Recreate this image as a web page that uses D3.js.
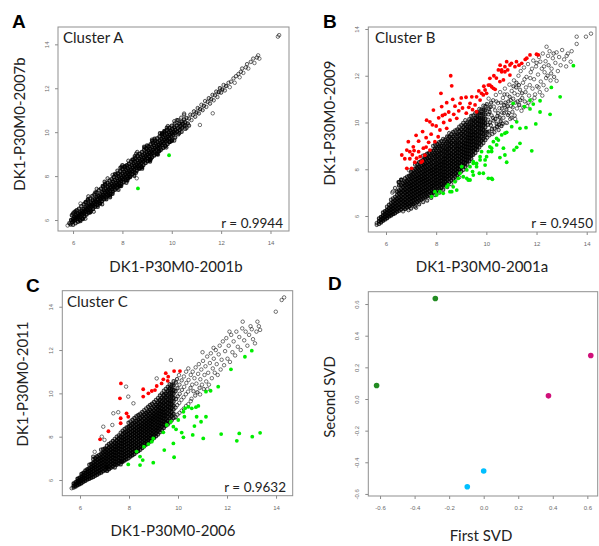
<!DOCTYPE html>
<html><head><meta charset="utf-8">
<script src="https://cdn.jsdelivr.net/npm/d3@7"></script>
<style>body{margin:0;background:#fff}svg{display:block}</style>
</head><body>
<svg id="chart" width="599" height="546"></svg>
<script>
// ---------------- DATA ----------------
const exprTicks = [6, 8, 10, 12, 14];
const svdTicks = [-0.6, -0.4, -0.2, 0, 0.2, 0.4, 0.6];

// Cluster A : DK1-P30M0-2001b (x) vs DK1-P30M0-2007b (y)
const clusterA_black = [
[5.78,5.75],[5.85,5.85],[5.9,5.8],[5.92,6.0],[5.97,5.9],[6.0,6.05],[6.02,5.95],[6.05,6.15],[6.08,6.0],[6.1,6.1],[6.13,6.22],[6.15,6.05],[6.18,6.15],[6.2,6.3],[6.22,6.1],[6.25,6.22],[6.28,6.35],[6.3,6.15],[6.32,6.28],[6.35,6.42],[6.38,6.25],[6.4,6.35],[6.42,6.5],[6.45,6.3],[6.48,6.42],[6.5,6.58],[6.52,6.38],[6.55,6.5],[6.58,6.65],[6.6,6.45],[6.62,6.58],[6.65,6.72],[6.68,6.5],[6.7,6.65],[6.72,6.8],[6.75,6.6],[6.78,6.72],[6.8,6.9],[6.82,6.65],[6.85,6.8],[6.88,6.95],[6.9,6.72],[6.92,6.86],[6.95,7.05],[6.98,6.8],[7.0,6.95],[7.02,7.1],[7.05,6.85],[7.08,7.0],[7.1,7.18],[7.12,6.95],[7.15,7.08],[7.18,7.28],[7.2,7.02],[7.22,7.15],[7.25,7.35],[7.28,7.1],[7.3,7.25],[7.32,7.42],[7.35,7.18],[7.38,7.32],[7.4,7.5],[7.42,7.25],[7.45,7.4],[7.48,7.6],[7.5,7.32],[7.52,7.48],[7.55,7.65],[7.58,7.4],[7.6,7.55],[7.62,7.75],[7.65,7.48],[7.68,7.62],[7.7,7.82],[7.72,7.55],[7.75,7.7],[7.78,7.9],[7.8,7.62],[7.82,7.78],[7.85,7.98],[7.88,7.7],[7.9,7.85],[7.92,8.05],[7.95,7.78],[7.98,7.92],[8.0,8.12],[8.02,7.85],[8.05,8.0],[8.08,8.2],[8.1,7.92],[8.12,8.08],[8.15,8.28],[8.18,8.0],[8.2,8.15],[8.22,8.35],[8.25,8.08],[8.28,8.22],[8.3,8.42],[8.32,8.15],[8.35,8.3],[8.38,8.5],[8.4,8.22],[8.42,8.38],[8.45,8.58],[8.48,8.3],[8.5,8.45],[8.52,8.65],[8.55,8.38],[8.58,8.52],[8.6,8.72],[8.62,8.45],[8.65,8.6],[8.68,8.8],[8.7,8.52],[8.72,8.68],[8.75,8.88],[8.78,8.6],[8.8,8.75],[8.82,8.95],[8.85,8.68],[8.88,8.82],[8.9,9.02],[8.92,8.75],[8.95,8.9],[8.98,9.1],[9.0,8.82],[9.02,8.98],[9.05,9.18],[9.08,8.9],[9.1,9.05],[9.12,9.25],[9.15,8.98],[9.18,9.12],[9.2,9.32],[9.22,9.05],[9.25,9.2],[9.28,9.4],[9.3,9.12],[9.32,9.28],[9.35,9.48],[9.38,9.2],[9.4,9.35],[9.42,9.55],[9.45,9.28],[9.48,9.42],[9.5,9.62],[9.52,9.35],[9.55,9.5],[9.58,9.7],[9.6,9.42],[9.62,9.58],[9.65,9.78],[9.68,9.5],[9.7,9.65],[9.72,9.85],[9.75,9.58],[9.78,9.72],[9.8,9.92],[9.82,9.65],[9.85,9.8],[9.88,10.0],[9.9,9.72],[9.92,9.88],[9.95,10.08],[9.98,9.8],[10.0,9.95],[10.02,10.15],[10.05,9.88],[10.08,10.02],[10.1,10.22],[10.12,9.95],[10.15,10.1],[10.2,10.3],[10.22,10.02],[10.25,10.18],[10.3,10.38],[10.32,10.1],[10.35,10.28],[10.4,10.48],[10.42,10.2],[10.45,10.38],[10.5,10.58],[10.52,10.3],[10.55,10.45],[10.6,10.65],[10.65,10.4],[10.7,10.62],[10.75,10.8],[10.8,10.55],[10.85,10.78],[10.9,10.95],[10.95,10.7],[11.0,10.9],[11.05,11.1],[11.1,10.85],[11.14,10.33],[11.15,11.05],[11.2,11.25],[11.25,11.0],[11.3,11.2],[11.35,11.42],[11.4,11.15],[11.45,11.38],[11.5,11.55],[11.55,11.3],[11.6,11.5],[11.66,10.86],[11.65,11.7],[11.7,11.45],[11.75,11.68],[11.8,11.85],[11.85,11.6],[11.9,11.82],[11.95,12.0],[12.0,11.8],[12.05,11.95],[12.1,12.15],[12.15,11.9],[12.2,12.1],[12.3,12.25],[12.35,12.05],[12.4,12.3],[12.5,12.45],[12.55,12.25],[12.6,12.55],[12.7,12.65],[12.75,12.5],[12.8,12.75],[12.85,12.9],[12.9,12.7],[13.0,12.95],[13.05,13.1],[13.1,12.9],[13.2,13.2],[13.3,13.35],[13.35,13.15],[13.45,13.4],[13.5,13.5],[13.55,13.35],[14.3,14.35],[14.35,14.42],
[6.1,6.4],[6.3,5.95],[6.5,6.8],[6.7,6.35],[6.9,7.25],[7.1,6.75],[7.3,7.65],[7.5,7.12],[7.7,8.1],[7.9,7.55],[8.1,8.45],[8.3,7.95],[8.5,8.9],[8.7,8.35],[8.9,9.3],[9.1,8.72],[9.3,9.7],[9.5,9.15],[9.7,10.05],[9.9,9.55],[10.1,10.5],[10.3,9.95],[10.5,10.85],[10.7,10.3],[6.0,6.3],[6.6,6.95],[7.2,7.55],[7.8,8.25],[8.4,8.75],[9.0,9.4],[9.6,9.95],[10.2,10.55],[6.4,6.05],[7.0,6.6],[7.6,7.2],[8.2,7.8],[8.8,8.4],[9.4,9.0],[10.0,9.6],[10.6,10.2],[7.4,7.9],[8.0,8.5],[8.6,9.1],[9.2,9.6],[9.8,10.2],[7.35,6.95],[7.95,7.55],[8.55,8.15],[9.15,8.78],[9.75,9.35],[7.97,8.43],[8.58,7.9],
[5.95,6.22],[6.05,6.35],[6.15,6.45],[6.24,6.52],[6.33,6.63],[6.43,6.72],[6.52,6.82],[6.6,6.9],[6.69,6.98],[6.78,7.1],[6.86,7.16],[6.95,7.25],[7.04,7.36],[7.13,7.43],[7.22,7.52],[7.3,7.6],[7.39,7.7],[7.48,7.8],[7.56,7.86],[7.65,7.96],[7.74,8.06],[7.82,8.12],[7.91,8.22],[8.0,8.32],[8.09,8.4],[8.18,8.5],[8.26,8.56],[8.35,8.66],[8.44,8.76],[8.52,8.82],[8.61,8.92],[8.7,9.02],[8.79,9.1],[8.88,9.2],[8.96,9.26],[9.05,9.36],[9.14,9.45],[9.23,9.52],[9.32,9.62],[9.41,9.72],[9.5,9.8],[9.6,9.9],[9.7,10.0],[9.8,10.1],[9.9,10.2],[10.0,10.3],[10.12,10.4],[10.25,10.55],[10.38,10.66],[10.5,10.8],
[6.0,5.78],[6.1,5.85],[6.2,5.92],[6.28,6.0],[6.37,6.08],[6.46,6.16],[6.55,6.25],[6.64,6.33],[6.72,6.42],[6.81,6.5],[6.9,6.6],[6.99,6.68],[7.08,6.76],[7.17,6.86],[7.26,6.95],[7.34,7.03],[7.43,7.12],[7.52,7.2],[7.61,7.3],[7.7,7.38],[7.78,7.46],[7.87,7.56],[7.96,7.64],[8.05,7.72],[8.14,7.82],[8.23,7.9],[8.32,7.98],[8.4,8.08],[8.49,8.16],[8.58,8.24],[8.67,8.34],[8.76,8.42],[8.85,8.5],[8.94,8.6],[9.02,8.68],[9.11,8.76],[9.2,8.86],[9.29,8.94],[9.38,9.02],[9.47,9.12],[9.56,9.2],[9.65,9.28],[9.74,9.38],[9.83,9.46],[9.92,9.55],[10.02,9.65],[10.14,9.76],[10.26,9.9],[10.4,10.02],[10.55,10.15],
[6.3,6.75],[6.62,7.08],[6.96,7.42],[7.28,7.74],[7.6,8.05],[7.92,8.38],[8.24,8.7],[8.56,9.02],[8.88,9.34],[9.2,9.66],[9.52,9.95],[9.84,10.28],[6.5,6.06],[6.84,6.38],[7.18,6.72],[7.5,7.04],[7.84,7.38],[8.16,7.7],[8.48,8.02],[8.8,8.34],[9.12,8.66],[9.44,8.98],[9.78,9.3],[10.1,9.62]
];
const clusterA_green = [[9.89,8.95],[8.63,7.44]];

// Cluster B : DK1-P30M0-2001a (x) vs DK1-P30M0-2009 (y)
// dense core as columns [x, [y...]]
const clusterB_core = [
[5.63,[5.62,5.7]],[5.72,[5.66,5.78,5.9]],[5.8,[5.72,5.84,5.96]],[5.88,[5.8,5.9,6.02,6.15]],[5.96,[5.85,5.97,6.08,6.2]],
[6.04,[5.9,6.02,6.14,6.26,6.4]],[6.12,[5.98,6.1,6.22,6.34,6.48]],[6.2,[6.02,6.14,6.27,6.4,6.55,6.7]],
[6.28,[6.08,6.2,6.33,6.46,6.6,6.75,7.05]],[6.36,[6.12,6.26,6.4,6.53,6.67,6.82,7.2]],[6.44,[6.18,6.3,6.45,6.6,6.74,6.9,7.05]],
[6.52,[6.22,6.36,6.5,6.65,6.8,6.95,7.1,7.3,7.45]],[6.6,[6.28,6.42,6.56,6.7,6.85,7.0,7.15,7.32,7.55]],
[6.68,[6.2,6.35,6.5,6.64,6.78,6.93,7.08,7.24,7.4]],[6.76,[6.3,6.45,6.58,6.72,6.86,7.0,7.15,7.3,7.46,7.62]],
[6.84,[6.36,6.5,6.64,6.78,6.92,7.06,7.2,7.35,7.5,7.68]],[6.92,[6.42,6.56,6.7,6.84,6.98,7.12,7.26,7.4,7.56,7.72,7.95]],
[7.0,[6.32,6.48,6.62,6.76,6.9,7.04,7.18,7.32,7.46,7.6,7.76,7.9]],[7.08,[6.5,6.66,6.8,6.94,7.08,7.22,7.36,7.5,7.65,7.8,7.96]],
[7.16,[6.4,6.56,6.72,6.86,7.0,7.14,7.28,7.42,7.56,7.7,7.86,8.02,8.2]],[7.24,[6.6,6.76,6.9,7.04,7.18,7.32,7.46,7.6,7.74,7.9,8.06,8.22]],
[7.32,[6.5,6.66,6.82,6.96,7.1,7.24,7.38,7.52,7.66,7.8,7.96,8.12,8.3]],[7.4,[6.7,6.86,7.0,7.14,7.28,7.42,7.56,7.7,7.84,8.0,8.16,8.34]],
[7.48,[6.6,6.76,6.92,7.06,7.2,7.34,7.48,7.62,7.76,7.9,8.06,8.22,8.4,8.58]],[7.56,[6.8,6.96,7.1,7.24,7.38,7.52,7.66,7.8,7.94,8.1,8.26,8.44,8.6]],
[7.64,[6.66,6.84,7.0,7.14,7.28,7.42,7.56,7.7,7.84,7.98,8.14,8.3,8.48,8.66]],[7.72,[6.9,7.06,7.2,7.34,7.48,7.62,7.76,7.9,8.04,8.2,8.36,8.52,8.7]],
[7.8,[6.78,6.96,7.12,7.26,7.4,7.54,7.68,7.82,7.96,8.1,8.26,8.42,8.6,8.78]],[7.88,[7.0,7.16,7.3,7.44,7.58,7.72,7.86,8.0,8.14,8.3,8.46,8.62,8.8,9.0]],
[7.96,[6.9,7.08,7.24,7.38,7.52,7.66,7.8,7.94,8.08,8.22,8.38,8.54,8.7,8.88,9.05]],[8.04,[7.1,7.26,7.4,7.54,7.68,7.82,7.96,8.1,8.24,8.4,8.56,8.72,8.9,9.08]],
[8.12,[7.0,7.18,7.34,7.48,7.62,7.76,7.9,8.04,8.18,8.32,8.48,8.64,8.8,8.98,9.16]],[8.2,[7.2,7.36,7.5,7.64,7.78,7.92,8.06,8.2,8.34,8.5,8.66,8.82,9.0,9.2]],
[8.28,[7.12,7.3,7.46,7.6,7.74,7.88,8.02,8.16,8.3,8.44,8.6,8.76,8.92,9.1,9.3]],[8.36,[7.3,7.46,7.6,7.74,7.88,8.02,8.16,8.3,8.44,8.58,8.74,8.9,9.08,9.26]],
[8.44,[7.24,7.4,7.56,7.7,7.84,7.98,8.12,8.26,8.4,8.54,8.7,8.86,9.02,9.2,9.4]],[8.52,[7.45,7.6,7.74,7.88,8.02,8.16,8.3,8.44,8.58,8.72,8.88,9.04,9.2,9.38,9.55]],
[8.6,[7.36,7.52,7.68,7.82,7.96,8.1,8.24,8.38,8.52,8.66,8.82,8.98,9.14,9.32,9.5]],[8.68,[7.6,7.76,7.9,8.04,8.18,8.32,8.46,8.6,8.74,8.9,9.06,9.22,9.4,9.6]],
[8.76,[7.5,7.68,7.84,7.98,8.12,8.26,8.4,8.54,8.68,8.82,8.98,9.14,9.3,9.48,9.66]],[8.84,[7.72,7.88,8.02,8.16,8.3,8.44,8.58,8.72,8.86,9.0,9.16,9.32,9.5,9.7]],
[8.92,[7.66,7.84,8.0,8.14,8.28,8.42,8.56,8.7,8.84,8.98,9.14,9.3,9.46,9.64,9.82]],[9.0,[7.9,8.06,8.2,8.34,8.48,8.62,8.76,8.9,9.04,9.2,9.36,9.52,9.7,9.88]],
[9.08,[7.98,8.14,8.3,8.44,8.58,8.72,8.86,9.0,9.14,9.3,9.46,9.62,9.8,9.98]],[9.16,[8.1,8.26,8.4,8.54,8.68,8.82,8.96,9.1,9.24,9.4,9.56,9.72,9.9,10.1]],
[9.24,[8.2,8.36,8.52,8.66,8.8,8.94,9.08,9.22,9.36,9.5,9.66,9.82,10.0]],[9.32,[8.34,8.5,8.64,8.78,8.92,9.06,9.2,9.34,9.48,9.64,9.8,9.96,10.14]],
[9.4,[8.45,8.6,8.76,8.9,9.04,9.18,9.32,9.46,9.6,9.76,9.92,10.1,10.28]],[9.48,[8.62,8.78,8.92,9.06,9.2,9.34,9.48,9.62,9.78,9.94,10.1,10.3]],
[9.56,[8.7,8.86,9.0,9.16,9.3,9.44,9.58,9.72,9.88,10.04,10.2,10.4]],[9.64,[8.82,8.98,9.14,9.3,9.46,9.62,9.78,9.94,10.1,10.26,10.44]],
[9.72,[8.94,9.1,9.26,9.42,9.58,9.74,9.9,10.06,10.22,10.4,10.58]],[9.8,[9.05,9.22,9.4,9.56,9.72,9.88,10.04,10.2,10.38,10.56]],
[9.88,[9.12,9.3,9.5,9.68,9.86,10.02,10.18,10.36,10.54,10.72]],[9.96,[9.25,9.44,9.62,9.8,9.98,10.16,10.34,10.52,10.7]]
];
// sparser points (fringe and upper range) as pairs
const clusterB_spread = [
[6.25,7.0],[6.5,7.45],[6.62,7.55],[6.9,6.25],[7.2,6.35],
[10.03,9.35],[10.07,10.12],[10.02,10.78],[10.11,9.62],[10.13,10.45],[10.09,11.02],[10.18,9.88],[10.21,10.3],[10.16,10.66],[10.24,9.51],[10.27,10.95],[10.29,10.08],[10.33,9.74],[10.35,10.52],[10.38,11.18],[10.41,9.95],[10.44,10.28],[10.46,10.83],[10.49,9.68],[10.52,10.61],[10.55,11.3],[10.57,10.05],[10.6,9.85],[10.63,10.42],[10.66,11.05],[10.68,10.2],[10.71,10.74],[10.74,11.45],[10.77,10.0],[10.8,10.55],[10.83,11.2],[10.86,10.32],[10.88,10.9],[10.92,11.62],[10.95,10.15],[10.98,10.7],[11.01,11.35],[11.04,10.45],[11.07,11.02],[11.1,11.8],[11.13,10.3],[11.16,10.85],[11.19,11.5],[11.22,10.6],[11.25,11.18],[11.28,12.0],[11.31,10.75],[11.34,11.4],[11.37,12.2],[11.4,10.5],[11.43,11.05],[11.46,11.7],[11.5,12.35],[11.53,10.9],[11.56,11.3],[11.6,11.95],[11.63,10.7],[11.66,12.5],[11.7,11.15],[11.73,11.6],[11.77,12.15],[11.8,10.95],[11.84,11.45],[11.87,12.65],[11.9,11.85],[11.94,11.2],[11.98,12.4],[12.02,11.55],[12.06,12.05],[12.1,12.8],[12.13,11.3],[12.17,11.75],[12.21,12.3],[12.25,12.95],[12.28,11.6],[12.32,12.15],[12.36,12.62],[12.4,11.4],[12.44,12.0],[12.48,12.45],[12.52,13.05],[12.56,11.8],[12.6,12.3],[12.65,12.75],[12.7,11.95],[12.75,12.55],[12.8,13.0],[12.85,12.2],[12.9,12.8],[12.96,12.45],[13.02,13.1],[13.1,12.7],[13.18,12.4],[13.25,12.95],[13.36,12.6],[13.4,13.05],[12.4,13.24],[13.6,13.36],[13.6,13.67],[13.97,13.67],[14.17,13.8],[12.8,11.78],[13.2,12.85],
[10.04,9.6],[10.06,9.9],[10.08,10.35],[10.1,10.6],[10.12,9.45],[10.15,10.0],[10.19,10.85],[10.22,9.72],[10.26,10.2],[10.3,10.68],[10.32,9.58],[10.36,10.15],[10.4,10.9],[10.43,9.82],[10.47,10.4],[10.5,9.9],[10.53,10.22],[10.58,10.85],[10.62,10.6],[10.65,9.95],[10.7,10.4],[10.72,11.2],[10.76,10.85],[10.82,9.98],[10.85,10.7],[10.9,10.4],[10.93,11.1],[10.97,10.95],[11.0,10.2],[11.05,10.65],[11.08,11.55],[11.12,11.25],[11.15,10.15],[11.2,11.7],[11.24,10.9],[11.3,11.6],[11.35,10.95],[11.42,11.25],[11.48,10.65],[11.52,11.85],[11.58,11.5],[11.68,10.85],[11.75,11.9],[11.82,12.3],[11.92,11.05],[12.0,12.55],[12.08,11.5],[12.15,12.6],[12.23,11.15],[12.3,12.4],[12.38,11.9],[12.46,12.85],[12.58,12.1],[12.68,12.95]
];
const clusterB_red = [
[8.58,12.0],[8.19,11.25],[8.62,11.57],[7.89,10.53],[8.22,10.68],[8.42,10.85],[8.66,10.99],[8.95,10.82],[9.19,11.08],[9.35,10.82],[9.61,11.1],[9.81,11.25],[9.95,11.39],[10.08,11.6],[10.21,11.53],[10.35,11.42],[10.48,12.25],[10.61,12.25],[10.74,12.39],[7.62,10.1],[7.75,10.03],[7.46,9.61],[8.15,9.68],[8.42,9.75],[8.55,10.1],[8.82,10.18],[6.89,9.18],[7.09,8.96],[6.63,8.61],[6.83,8.82],[7.22,8.47],[7.36,8.54],[7.49,8.9],[7.02,8.04],[6.83,8.04],[7.75,8.82],[7.95,9.18],[8.08,9.39],
[11.74,12.89],[12.07,12.89],[11.61,12.75],[11.41,12.53],[11.14,12.39],[10.94,12.46],[10.74,12.17],[10.61,12.17],[10.54,11.75],[10.68,11.82],[10.14,11.6],[10.28,11.46],[10.01,11.25],[9.88,11.18],[9.75,10.96],[9.55,10.75],[9.61,10.46],[9.42,11.1],[10.14,11.89],[10.81,12.6],[10.94,12.03],[12.0,12.92],[11.0,12.53],
[7.15,8.3],[7.3,8.75],[7.05,8.62],[6.95,8.45],[7.4,8.3],[7.55,8.6],[7.6,9.35],[7.8,9.5],[7.7,9.15],[8.0,9.85],[8.3,10.0],[8.7,10.35],[8.9,10.5],[9.05,10.62],[9.2,10.4],[9.3,10.65],[9.45,10.55],[8.5,10.45],[8.1,10.2],[7.3,9.2],[7.2,9.45],[7.85,9.9],[8.35,10.35],[9.0,11.05],[9.7,11.35],[9.9,11.55],[10.4,11.9],[10.3,12.0],[10.55,12.45],[10.85,12.25],[11.2,12.6],[11.3,12.45],[11.55,12.7],[6.95,8.75],[7.12,8.8],[6.75,8.45],[7.45,8.35],[7.6,8.95],[8.25,10.3],[8.75,10.7]
];
const clusterB_green = [
[13.47,12.43],[12.94,11.1],[12.59,11.5],[12.14,10.93],[12.54,10.35],[12.14,10.45],[11.97,9.94],[11.81,8.79],[11.52,10.68],[11.74,10.58],[11.87,10.79],[11.58,9.78],[11.34,9.75],[11.21,10.03],[11.01,9.82],[10.81,9.58],[11.34,9.11],[11.21,8.94],[11.1,8.82],[10.68,8.9],[10.74,8.61],[10.54,8.5],[10.81,8.3],[10.41,9.32],[10.21,8.9],[10.21,8.76],[10.01,8.54],[9.95,8.18],[9.75,8.4],[9.61,8.11],[9.48,8.25],[9.72,7.83],[9.88,7.83],[10.08,7.61],[10.24,7.57],[9.45,7.9],[9.35,7.54],
[7.82,6.83],[8.02,6.9],[8.15,7.04],[8.28,6.97],[8.55,7.04],[8.68,7.25],[8.48,7.33],[8.75,7.47],[8.88,7.61],[9.08,7.68],[8.95,7.83],[9.22,7.97],[9.35,8.11],[9.02,8.11],[9.48,8.32],[9.61,8.25],[9.75,8.54],[9.95,8.4],[9.81,8.75],[10.08,8.75],[10.14,8.96],[10.28,9.18],[10.41,9.04],[10.48,9.25],[10.61,9.47],[10.74,9.54],[10.21,7.61],[9.28,7.54],[8.62,7.04],[8.42,7.25],[7.95,7.04],[8.82,7.11],[9.48,7.75],[9.22,7.61],[11.07,10.82],[11.74,10.96]
];

// Cluster C : DK1-P30M0-2006 (x) vs DK1-P30M0-2011 (y)
const clusterC_core = [
[5.66,[5.62]],[5.74,[5.65,5.74,5.84]],[5.82,[5.7,5.8,5.9]],[5.9,[5.76,5.86,5.96,6.06]],[5.98,[5.8,5.9,6.0,6.1]],
[6.06,[5.85,5.96,6.06,6.16,6.28]],[6.14,[5.92,6.02,6.12,6.22,6.34]],[6.22,[5.96,6.08,6.2,6.32,6.44]],[6.3,[6.02,6.14,6.26,6.38,6.5]],
[6.38,[6.06,6.18,6.3,6.42,6.54,6.7]],[6.46,[6.1,6.24,6.36,6.48,6.6,6.74]],[6.54,[6.14,6.28,6.42,6.54,6.66,6.8,6.96]],
[6.62,[6.2,6.34,6.48,6.6,6.72,6.86,7.0]],[6.7,[6.24,6.38,6.52,6.66,6.8,6.94,7.1]],[6.78,[6.3,6.44,6.58,6.72,6.86,7.0,7.16]],
[6.86,[6.34,6.48,6.62,6.76,6.9,7.04,7.2,7.4]],[6.94,[6.4,6.54,6.68,6.82,6.96,7.1,7.26,7.42]],[7.02,[6.46,6.6,6.74,6.88,7.02,7.16,7.3,7.46]],
[7.1,[6.42,6.56,6.7,6.84,6.98,7.12,7.26,7.42,7.58]],[7.18,[6.5,6.64,6.78,6.92,7.06,7.2,7.34,7.5,7.66]],[7.26,[6.56,6.7,6.84,6.98,7.12,7.26,7.4,7.56,7.72]],
[7.34,[6.62,6.76,6.9,7.04,7.18,7.32,7.46,7.62,7.8]],[7.42,[6.58,6.72,6.86,7.0,7.14,7.28,7.42,7.56,7.72,7.9]],[7.5,[6.7,6.84,6.98,7.12,7.26,7.4,7.54,7.68,7.84,8.0]],
[7.58,[6.76,6.9,7.04,7.18,7.32,7.46,7.6,7.74,7.9,8.06]],[7.66,[6.72,6.86,7.0,7.14,7.28,7.42,7.56,7.7,7.84,8.0,8.18]],[7.74,[6.84,6.98,7.12,7.26,7.4,7.54,7.68,7.82,7.96,8.12,8.28]],
[7.82,[6.9,7.04,7.18,7.32,7.46,7.6,7.74,7.88,8.02,8.18,8.36]],[7.9,[6.96,7.1,7.24,7.38,7.52,7.66,7.8,7.94,8.08,8.24,8.42]],[7.98,[7.0,7.14,7.28,7.42,7.56,7.7,7.84,7.98,8.12,8.28,8.46,8.64]],
[8.06,[7.08,7.22,7.36,7.5,7.64,7.78,7.92,8.06,8.2,8.36,8.52,8.7]],[8.14,[7.14,7.28,7.42,7.56,7.7,7.84,7.98,8.12,8.26,8.42,8.6,8.78]],[8.22,[7.2,7.34,7.48,7.62,7.76,7.9,8.04,8.18,8.32,8.48,8.66,8.86]],
[8.3,[7.28,7.42,7.56,7.7,7.84,7.98,8.12,8.26,8.4,8.56,8.74,8.94]],[8.38,[7.34,7.48,7.62,7.76,7.9,8.04,8.18,8.32,8.46,8.62,8.8,9.0]],[8.46,[7.4,7.54,7.68,7.82,7.96,8.1,8.24,8.38,8.52,8.68,8.86,9.06]],
[8.54,[7.48,7.62,7.76,7.9,8.04,8.18,8.32,8.46,8.6,8.76,8.94,9.14]],[8.62,[7.56,7.7,7.84,7.98,8.12,8.26,8.4,8.54,8.68,8.84,9.02,9.22]],[8.7,[7.64,7.78,7.92,8.06,8.2,8.34,8.48,8.62,8.76,8.92,9.1,9.3]],
[8.78,[7.7,7.84,7.98,8.12,8.26,8.4,8.54,8.68,8.82,8.98,9.16,9.38]],[8.86,[7.78,7.92,8.06,8.2,8.34,8.48,8.62,8.76,8.9,9.06,9.24,9.46]],[8.94,[7.86,8.0,8.14,8.28,8.42,8.56,8.7,8.84,8.98,9.14,9.32,9.52]],
[9.02,[7.94,8.08,8.22,8.36,8.5,8.64,8.78,8.92,9.06,9.22,9.4,9.6]],[9.1,[8.02,8.16,8.3,8.44,8.58,8.72,8.86,9.0,9.14,9.3,9.48,9.7]],[9.18,[8.1,8.26,8.4,8.54,8.68,8.82,8.96,9.1,9.24,9.4,9.58,9.78]],
[9.26,[8.2,8.36,8.5,8.64,8.78,8.92,9.06,9.2,9.36,9.52,9.7,9.9]],[9.34,[8.3,8.46,8.6,8.74,8.88,9.02,9.16,9.3,9.46,9.62,9.8,10.0]],[9.42,[8.4,8.56,8.7,8.84,8.98,9.12,9.26,9.42,9.58,9.76,9.94,10.12]],
[9.5,[8.5,8.66,8.82,8.98,9.14,9.3,9.46,9.62,9.8,9.98,10.2]],[9.58,[8.56,8.74,8.92,9.08,9.24,9.4,9.56,9.72,9.9,10.1,10.3]],[9.66,[8.66,8.84,9.02,9.2,9.36,9.52,9.68,9.86,10.04,10.24,10.42]],
[9.74,[8.76,8.96,9.14,9.32,9.5,9.66,9.84,10.02,10.2,10.4]],[9.82,[8.86,9.06,9.26,9.44,9.62,9.8,9.98,10.16,10.36,10.56]]
];
const clusterC_spread = [
[7.32,8.54],[7.88,10.31],[9.71,11.54],[9.13,10.69],[7.97,9.85],[8.18,9.54],[7.36,9.08],[7.56,9.13],[6.95,8.46],[6.89,8.0],[6.54,7.08],[7.09,6.61],[7.7,6.85],[7.0,7.85],[6.6,7.3],
[9.9,8.9],[9.9,9.34],[9.92,9.74],[9.9,10.1],[9.91,10.5],[9.98,9.02],[9.97,9.46],[9.99,9.86],[9.98,10.24],[9.96,10.66],[10.06,9.1],[10.05,9.56],[10.07,9.98],[10.06,10.4],[10.04,10.84],[10.15,9.2],[10.14,9.7],[10.16,10.16],[10.15,10.6],[10.24,9.3],[10.23,9.82],[10.25,10.3],[10.24,10.78],[10.33,9.42],[10.32,9.96],[10.34,10.48],[10.33,11.0],[10.42,9.5],[10.41,10.08],[10.43,10.62],[10.42,11.15],[10.52,9.64],[10.51,10.25],[10.52,10.85],
[10.55,9.75],[10.58,10.4],[10.6,11.0],[10.63,10.1],[10.67,10.7],[10.7,9.9],[10.72,11.2],[10.75,10.45],[10.79,10.05],[10.82,10.9],[10.85,11.35],[10.88,10.25],[10.91,10.65],[10.95,11.1],[10.98,10.4],[11.02,11.5],[11.05,10.2],[11.08,10.85],[11.12,11.25],[11.15,10.55],[11.19,11.7],[11.23,10.95],[11.26,10.4],[11.3,11.4],[11.34,11.85],[11.38,10.7],[11.42,11.15],[11.46,11.6],[11.5,10.95],[11.54,12.0],[11.58,11.35],[11.62,10.85],[11.66,11.8],[11.7,12.2],[11.74,11.1],[11.78,11.55],[11.83,12.4],[11.88,11.3],[11.92,11.95],[11.97,12.55],[12.02,11.6],[12.07,12.2],[12.12,11.45],[12.17,12.7],[12.22,11.9],[12.27,12.4],[12.33,11.75],[12.38,12.85],[12.44,12.15],[12.5,12.6],[12.56,12.0],[12.62,13.0],[12.64,13.31],[12.7,12.45],[12.76,12.85],[12.83,12.2],[12.9,12.7],[12.96,13.1],[13.01,12.96],[13.06,12.5],[13.14,12.31],[13.2,12.85],[13.24,13.31],[13.35,12.93],[13.3,13.1],[13.99,13.77],[14.23,14.31],[14.33,14.43],[11.0,11.9],[11.45,12.1],[12.1,12.85],[11.2,10.2],[10.9,9.95]
];
const clusterC_red = [
[7.67,10.46],[8.58,10.19],[7.63,9.77],[8.58,9.85],[8.79,10.0],[8.93,10.11],[9.06,10.15],[9.13,10.34],[9.33,10.46],[9.4,10.65],[9.6,10.77],[9.58,10.58],[9.84,11.03],[10.08,11.03],[9.5,10.93],[7.9,9.08],[7.97,8.92],[7.66,8.85],[7.66,8.62],[7.16,8.25],[6.82,7.88]
];
const clusterC_green = [
[13.01,11.97],[12.73,11.69],[12.16,11.11],[11.64,10.31],[11.33,10.12],[11.14,10.08],[10.83,9.42],[10.73,9.36],[10.56,9.31],[10.42,9.38],[10.29,9.31],[10.22,9.15],[10.76,8.92],[11.14,8.92],[10.94,8.69],[10.26,8.92],[10.01,8.77],[9.71,8.69],[9.81,8.46],[9.54,8.54],[9.92,8.34],[10.15,8.19],[10.67,8.49],[10.6,8.08],[10.22,7.97],[11.03,7.92],[11.76,8.12],[12.5,8.15],[12.4,7.81],[13.03,8.0],[13.35,8.18],[9.4,8.2],[8.99,7.92],[8.93,7.77],[8.79,7.66],[8.61,7.54],[8.31,7.31],[8.45,7.08],[8.56,6.92],[8.45,6.69],[7.97,6.72],[8.99,6.8],[9.44,7.38],[9.81,7.69],[9.84,7.05]
];

// Panel D : SVD of samples
const svdFirst  = [-0.62, -0.28, 0.375, 0.62, -0.095, 0.0];
const svdSecond = [0.085, 0.635, 0.02, 0.275, -0.555, -0.455];
const svdGroup  = ["g1", "g1", "g2", "g2", "g3", "g3"];

// ---------------- DRAW ----------------
const svg = d3.select("#chart");
const TXT = "Lato, 'Open Sans', sans-serif";
const ARIAL = "'Liberation Sans', Arial, sans-serif";
const flatCols = cols => cols.flatMap(([x, ys]) => ys.map(y => [x, y]));

function panel(cfg) {
  const g = svg.append("g");
  const x = d3.scaleLinear().domain(cfg.xd).range([cfg.x0, cfg.x1]);
  const y = d3.scaleLinear().domain(cfg.yd).range([cfg.y1, cfg.y0]);
  const fmt = cfg.fmt || (d => String(d));

  const ax = g.append("g").attr("transform", `translate(0,${cfg.y1})`)
    .call(d3.axisBottom(x).tickValues(cfg.xt).tickSize(3).tickSizeOuter(0).tickFormat(fmt));
  const ay = g.append("g").attr("transform", `translate(${cfg.x0},0)`)
    .call(d3.axisLeft(y).tickValues(cfg.yt).tickSize(3).tickSizeOuter(0).tickFormat(fmt));
  [ax, ay].forEach(a => {
    a.select(".domain").remove();
    a.selectAll("line").attr("stroke", "#8a8a8a");
    a.selectAll("text").attr("font-family", ARIAL).attr("font-size", 6).attr("fill", "#6a6a6a");
  });
  ax.selectAll("text").attr("y", 10).attr("dy", "0.71em");
  ay.selectAll("text").attr("transform", "rotate(-90)").attr("x", 0).attr("y", -9.5)
    .attr("dy", 0).attr("text-anchor", "middle");

  const plot = g.append("g");
  cfg.draw(plot, x, y);

  g.append("rect").attr("x", cfg.x0).attr("y", cfg.y0)
    .attr("width", cfg.x1 - cfg.x0).attr("height", cfg.y1 - cfg.y0)
    .attr("fill", "none").attr("stroke", "#8f8f8f").attr("stroke-width", 1);

  g.append("text").attr("x", cfg.letter[1]).attr("y", cfg.letter[2]).text(cfg.letter[0])
    .attr("font-family", ARIAL).attr("font-weight", "bold").attr("font-size", 19).attr("fill", "#000");
  g.append("text").attr("x", cfg.xl[1]).attr("y", cfg.xl[2]).text(cfg.xl[0])
    .attr("text-anchor", "middle").attr("font-family", TXT).attr("font-size", 15).attr("fill", "#222");
  g.append("text").attr("transform", `translate(${cfg.yl[1]},${cfg.yl[2]}) rotate(-90)`).text(cfg.yl[0])
    .attr("text-anchor", "middle").attr("font-family", TXT).attr("font-size", 15).attr("fill", "#222");
  if (cfg.title) {
    g.append("text").attr("x", cfg.title[1]).attr("y", cfg.title[2]).text(cfg.title[0])
      .attr("font-family", TXT).attr("font-size", 15).attr("fill", "#222");
    g.append("text").attr("x", cfg.r[1]).attr("y", cfg.r[2]).text(cfg.r[0])
      .attr("text-anchor", "end").attr("font-family", TXT).attr("font-size", 13.5).attr("fill", "#222");
  }
}

// open circles whose darkness follows local overplotting (neighbour count in screen space)
function scatter(black, reds, greens) {
  return (p, x, y) => {
    const pts = black.map(d => ({ px: x(d[0]), py: y(d[1]) }));
    pts.forEach(a => {
      let n = 0;
      for (const b of pts) { const dx = a.px - b.px, dy = a.py - b.py; if (dx * dx + dy * dy < 25) n++; }
      a.t = Math.max(0, Math.min(1, (n - 3) / 7));
    });
    p.selectAll("circle.b").data(pts).join("circle").attr("class", "b")
      .attr("cx", d => d.px).attr("cy", d => d.py).attr("r", d => 1.75 - 0.15 * d.t)
      .attr("fill", "#000").attr("fill-opacity", d => 0.6 * d.t)
      .attr("stroke", "#000").attr("stroke-opacity", d => 0.6 + 0.25 * d.t)
      .attr("stroke-width", d => 0.9 + 0.35 * d.t);
    p.selectAll("circle.r").data(reds).join("circle").attr("class", "r")
      .attr("cx", d => x(d[0])).attr("cy", d => y(d[1])).attr("r", 1.9).attr("fill", "#ff0000");
    p.selectAll("circle.g").data(greens).join("circle").attr("class", "g")
      .attr("cx", d => x(d[0])).attr("cy", d => y(d[1])).attr("r", 1.9).attr("fill", "#00ee00");
  };
}

panel({
  x0: 58, x1: 289, y0: 27, y1: 231, xd: [5.39, 14.75], yd: [5.5, 14.79], xt: exprTicks, yt: exprTicks,
  letter: ["A", 12, 28], xl: ["DK1-P30M0-2001b", 176, 272], yl: ["DK1-P30M0-2007b", 25, 124],
  title: ["Cluster A", 63, 43], r: ["r = 0.9944", 283, 228],
  draw: scatter(clusterA_black, [], clusterA_green)
});
panel({
  x0: 368.3, x1: 596, y0: 27, y1: 232, xd: [5.295, 14.37], yd: [5.316, 14.085], xt: exprTicks, yt: exprTicks,
  letter: ["B", 323, 28], xl: ["DK1-P30M0-2001a", 482, 272], yl: ["DK1-P30M0-2009", 335, 123],
  title: ["Cluster B", 375, 43], r: ["r = 0.9450", 593, 228],
  draw: scatter(flatCols(clusterB_core).concat(clusterB_spread), clusterB_red, clusterB_green)
});
panel({
  x0: 62.3, x1: 292.7, y0: 290.7, y1: 495.7, xd: [5.278, 14.68], yd: [5.275, 14.74], xt: exprTicks, yt: exprTicks,
  letter: ["C", 26, 292], xl: ["DK1-P30M0-2006", 173, 536], yl: ["DK1-P30M0-2011", 28, 384],
  title: ["Cluster C", 67, 307], r: ["r = 0.9632", 286, 492],
  draw: scatter(flatCols(clusterC_core).concat(clusterC_spread), clusterC_red, clusterC_green)
});
const svdColor = d3.scaleOrdinal().domain(["g1", "g2", "g3"]).range(["#228b22", "#d0107a", "#00bfff"]);
panel({
  x0: 368.3, x1: 597.7, y0: 291.7, y1: 496, xd: [-0.668, 0.66], yd: [-0.613, 0.678], xt: svdTicks, yt: svdTicks,
  fmt: d => d.toFixed(1),
  letter: ["D", 328, 290], xl: ["First SVD", 481, 541], yl: ["Second SVD", 335, 397],
  draw: (p, x, y) => {
    p.selectAll("circle").data(svdFirst.map((v, i) => i)).join("circle")
      .attr("cx", i => x(svdFirst[i])).attr("cy", i => y(svdSecond[i])).attr("r", 2.8)
      .attr("fill", i => svdColor(svdGroup[i]));
  }
});
</script>
</body></html>
